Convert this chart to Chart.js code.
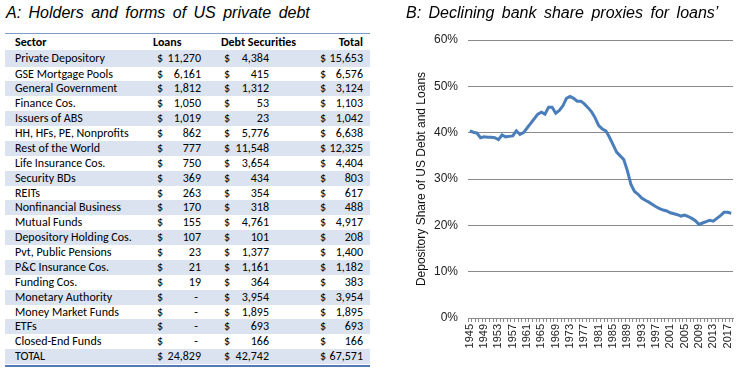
<!DOCTYPE html>
<html>
<head>
<meta charset="utf-8">
<script src="https://cdn.jsdelivr.net/npm/chart.js@4.4.1/dist/chart.umd.min.js"></script>
<style>
  html, body { margin: 0; padding: 0; background: #fff; }
  body { width: 753px; height: 369px; position: relative; overflow: hidden; }
  .title { position: absolute; top: 4px; font-family: "Liberation Sans", Arial, sans-serif; font-style: italic; font-size: 16px; word-spacing: 3px; color: #000; white-space: nowrap; z-index: 2; }
  #tbl { position: absolute; left: 0; top: 0; font-family: Carlito, Lato, "Open Sans", sans-serif; font-size: 12px; color: #000; }
  .row { position: absolute; left: 5px; width: 365px; }
  .row span { position: absolute; top: 0; white-space: nowrap; }
  .hdr { font-weight: bold; }
  #chartWrap { position: absolute; left: 380px; top: 0; width: 373px; height: 369px; }
</style>
</head>
<body>
<div class="title" style="left:6px;">A: Holders and forms of US private debt</div>
<div class="title" style="left:406px;">B: Declining bank share proxies for loans’</div>
<div id="tbl"></div>
<div id="chartWrap"><canvas id="c" width="373" height="369"></canvas></div>
<script>
// ---- Table data ----
const sectors = ['Private Depository','GSE Mortgage Pools','General Government','Finance Cos.','Issuers of ABS','HH, HFs, PE, Nonprofits','Rest of the World','Life Insurance Cos.','Security BDs','REITs','Nonfinancial Business','Mutual Funds','Depository Holding Cos.','Pvt, Public Pensions','P&C Insurance Cos.','Funding Cos.','Monetary Authority','Money Market Funds','ETFs','Closed-End Funds','TOTAL'];
const loans = [11270,6161,1812,1050,1019,862,777,750,369,263,170,155,107,23,21,19,null,null,null,null,24829];
const debtSecurities = [4384,415,1312,53,23,5776,11548,3654,434,354,318,4761,101,1377,1161,364,3954,1895,693,166,42742];
const totals = [15653,6576,3124,1103,1042,6638,12325,4404,803,617,488,4917,208,1400,1182,383,3954,1895,693,166,67571];
const headers = ['Sector','Loans','Debt Securities','Total'];

// ---- Chart data ----
const years = [];
for (let y = 1945; y <= 2018; y++) years.push(String(y));
const depositoryShare = [
  40.4,40.1,39.9,38.9,39.1,39.0,39.0,38.9,38.5,39.5,
  39.1,39.2,39.3,40.4,39.6,40.0,41.0,42.0,43.0,44.0,
  44.4,44.0,45.5,45.5,44.2,44.8,45.8,47.4,47.8,47.4,
  46.8,46.8,46.2,45.4,44.5,43.2,41.5,40.8,40.4,39.0,
  37.4,35.8,35.0,34.2,31.8,28.8,27.3,26.7,25.9,25.4,
  25.0,24.5,24.0,23.6,23.3,23.1,22.7,22.5,22.3,22.0,
  22.2,21.9,21.5,21.0,20.2,20.5,20.8,21.1,20.9,21.5,
  22.1,22.8,22.8,22.6
];
const yTicks = [0,10,20,30,40,50,60];

// ---- Build table ----
const tbl = document.getElementById('tbl');
const fmt = v => v.toLocaleString('en-US');
function addRow(y0, h, bg, cells, bold) {
  const r = document.createElement('div');
  r.className = 'row' + (bold ? ' hdr' : '');
  r.style.top = y0 + 'px';
  r.style.height = h + 'px';
  r.style.lineHeight = h + 'px';
  if (bg) r.style.background = bg;
  cells.forEach(c => {
    const s = document.createElement('span');
    s.textContent = c.t;
    if (c.l !== undefined) s.style.left = c.l + 'px';
    if (c.r !== undefined) s.style.right = c.r + 'px';
    r.appendChild(s);
  });
  tbl.appendChild(r);
}
addRow(34, 16, null, [
  {t: headers[0], l: 10}, {t: headers[1], l: 148}, {t: headers[2], l: 216}, {t: headers[3], r: 7}
], true);
const tb = document.createElement('div');
tb.style.cssText = 'position:absolute;left:5px;top:33px;width:365px;height:1px;background:#7f9cc9;';
tbl.appendChild(tb);
let rowTop = 50;
sectors.forEach((s, i) => {
  const h = i === 0 ? 16.5 : 14.875;
  const cells = [
    {t: s, l: 10},
    {t: '$', l: 152},
    loans[i] === null ? {t: '-', r: 172} : {t: fmt(loans[i]), r: 169},
    {t: '$', l: 219},
    {t: fmt(debtSecurities[i]), r: 101},
    {t: '$', l: 315},
    {t: fmt(totals[i]), r: 7}
  ];
  addRow(rowTop, h, i % 2 === 0 ? '#dbe3f1' : null, cells, false);
  rowTop += h;
});
const bb = document.createElement('div');
bb.style.cssText = 'position:absolute;left:5px;top:' + (rowTop + 0.5) + 'px;width:365px;height:2px;background:#5479b5;';
tbl.appendChild(bb);

// ---- Chart ----
const gridColor = '#8a8a8a';
new Chart(document.getElementById('c'), {
  type: 'line',
  data: {
    labels: years,
    datasets: [{
      data: depositoryShare,
      borderColor: '#4a7ebb',
      borderWidth: 3,
      pointRadius: 0,
      tension: 0,
      fill: false
    }]
  },
  options: {
    responsive: false,
    animation: false,
    devicePixelRatio: 1,
    layout: { padding: { top: 40, right: 20, bottom: 0, left: 0 } },
    plugins: { legend: { display: false }, tooltip: { enabled: false }, title: { display: false } },
    scales: {
      x: {
        type: 'category',
        offset: true,
        afterFit: s => { s.height = 51; },
        border: { display: true, color: gridColor, width: 1 },
        grid: { display: true, offset: true, drawOnChartArea: false, drawTicks: true, tickLength: 4, color: gridColor },
        ticks: {
          autoSkip: false,
          maxRotation: 90,
          minRotation: 90,
          padding: 2,
          color: '#222',
          font: { family: '"Liberation Sans", Arial, sans-serif', size: 11 },
          callback: function(v, i) { return i % 4 === 0 ? this.getLabelForValue(v) : ''; }
        }
      },
      y: {
        min: 0,
        max: 60,
        afterFit: s => { s.width = 88; },
        afterBuildTicks: s => { s.ticks = yTicks.map(v => ({ value: v })); },
        border: { display: false },
        grid: { color: gridColor, drawTicks: false, lineWidth: 1 },
        ticks: {
          padding: 10,
          color: '#222',
          font: { family: '"Liberation Sans", Arial, sans-serif', size: 12 },
          callback: v => v + '%'
        },
        title: {
          display: true,
          text: 'Depository Share of US Debt and Loans',
          color: '#111',
          font: { family: '"Liberation Sans", Arial, sans-serif', size: 12 },
          padding: { top: 34, bottom: 0 }
        }
      }
    }
  }
});
</script>
</body>
</html>
